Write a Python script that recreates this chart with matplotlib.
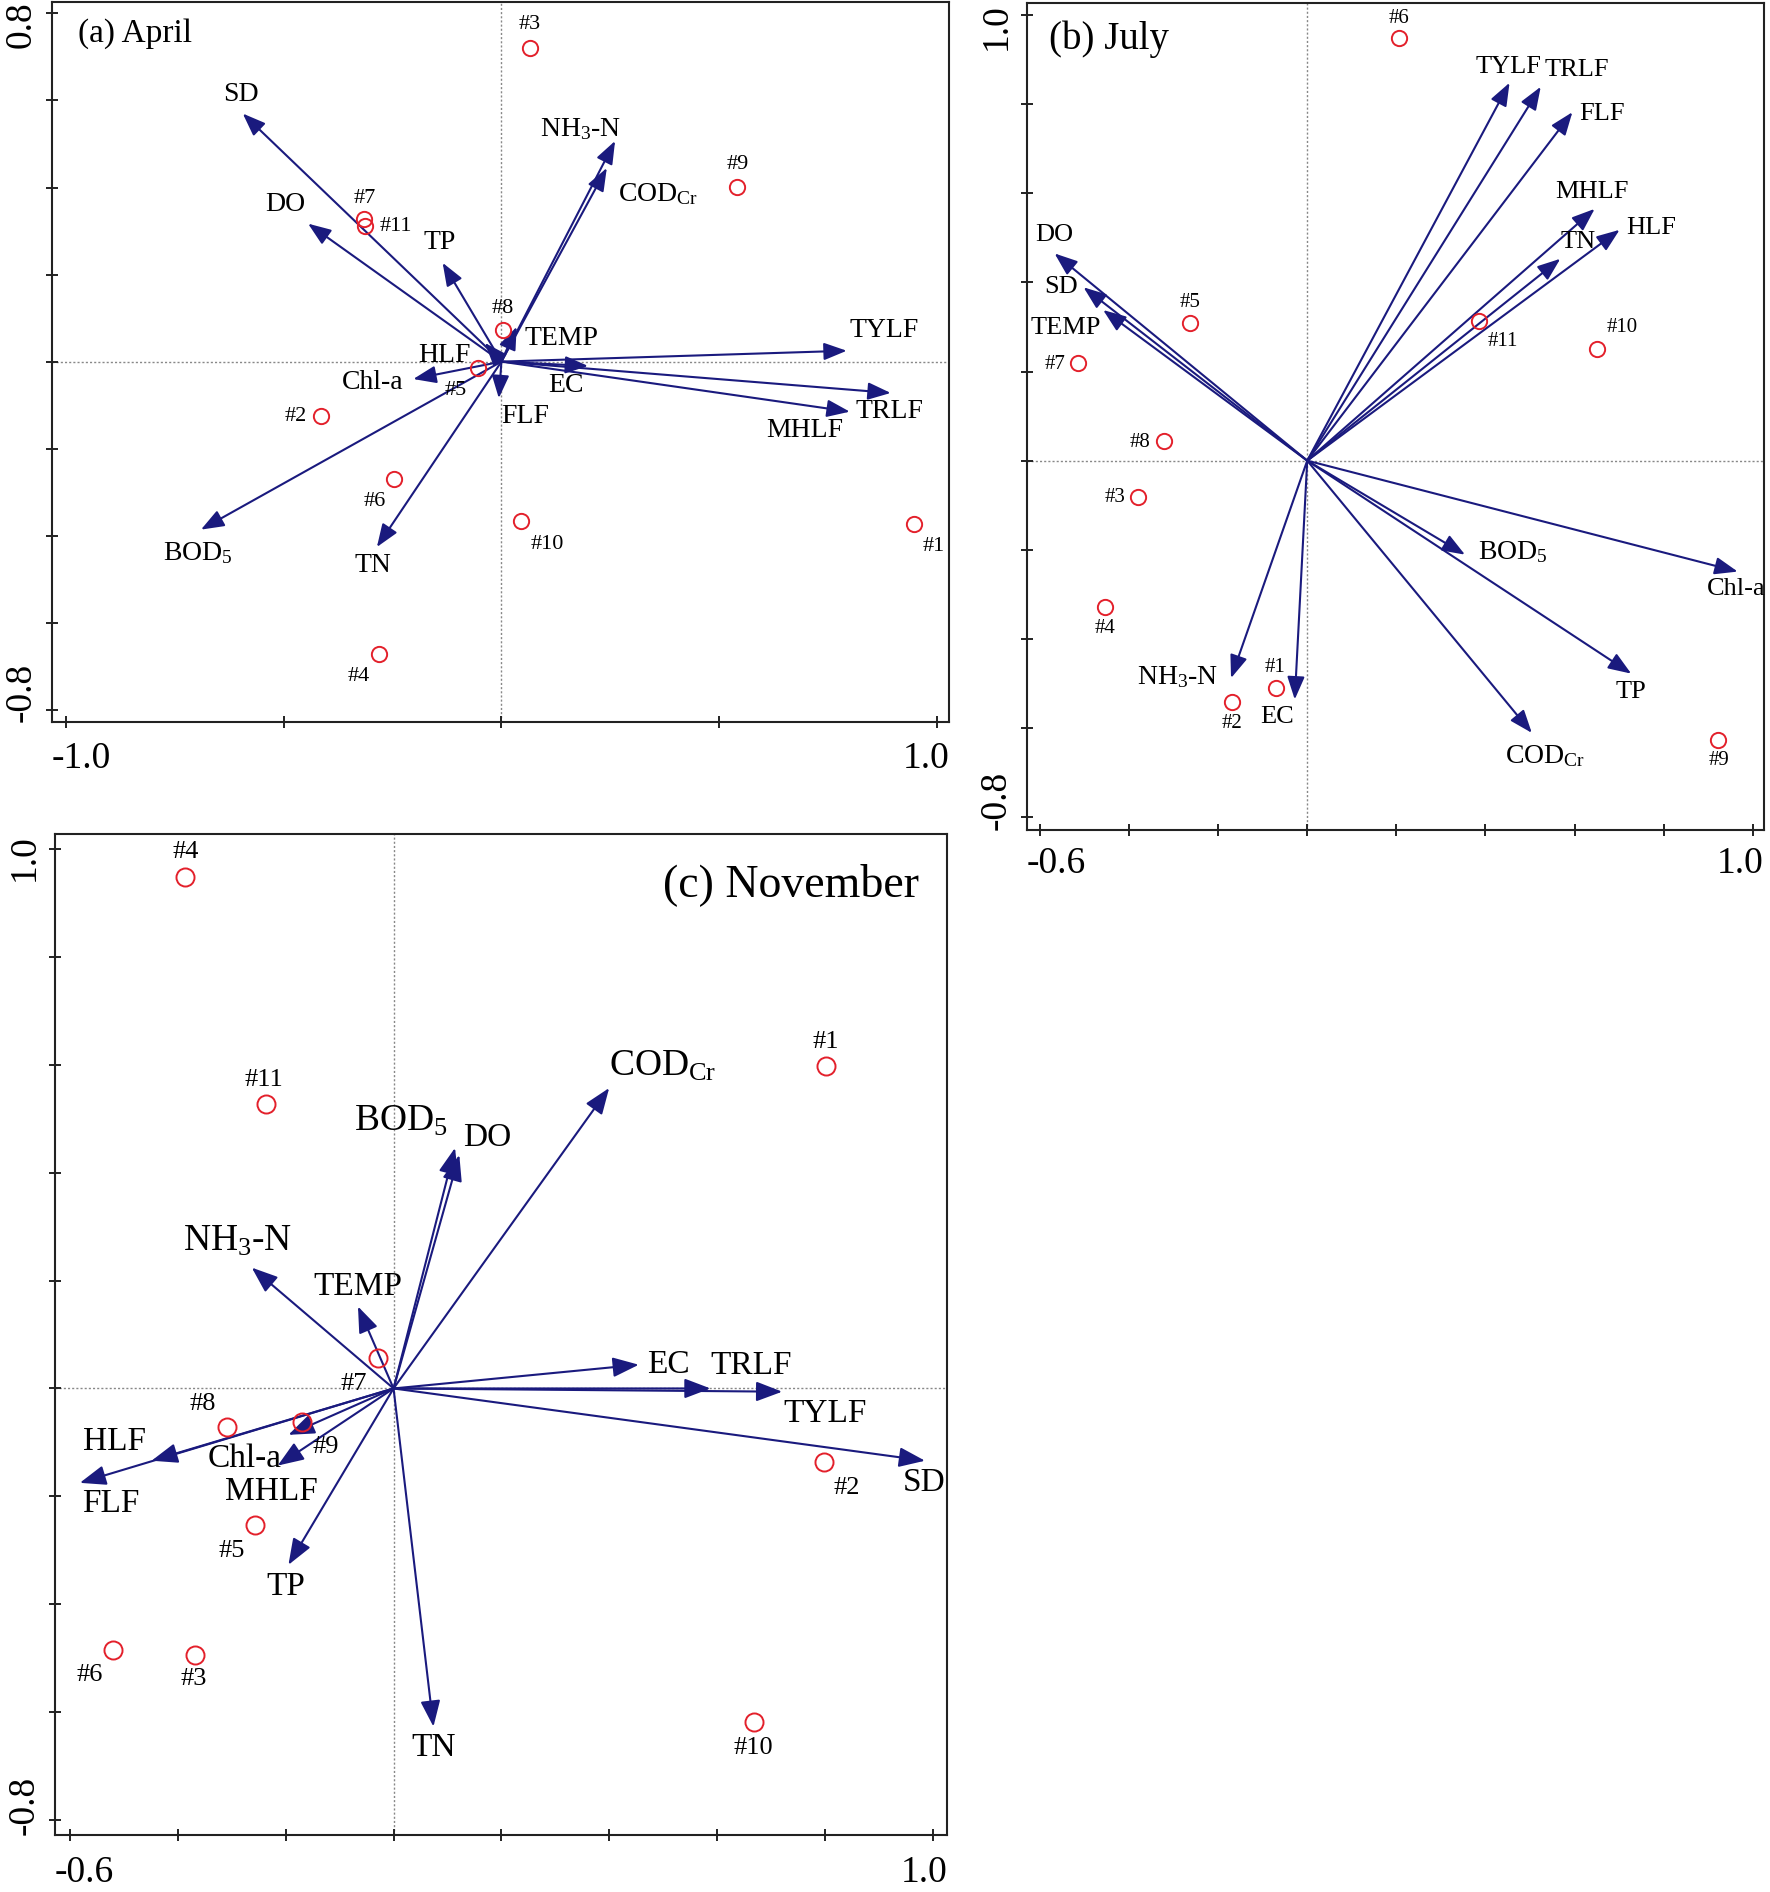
"""
    RDA biplots

    Three ordination panels (April, July, November): environmental /
    fluorescence variables as arrows, sampling sites as open circles.
"""

import numpy as np
import matplotlib
matplotlib.use("Agg")
import matplotlib.pyplot as plt
import matplotlib.transforms as mtransforms

plt.rcParams['font.family'] = ['Liberation Serif', 'DejaVu Serif']
plt.rcParams['mathtext.fontset'] = 'custom'
plt.rcParams['mathtext.rm'] = 'Liberation Serif'
plt.rcParams['mathtext.it'] = 'Liberation Serif:italic'

# variable names, same order in every panel
VARIABLES = ['TYLF', 'TRLF', 'FLF', 'MHLF', 'HLF', 'TEMP', 'DO', 'SD', 'EC',
             'Chl-a', 'TN', 'TP', 'NH$_3$-N', r'COD$_{\mathrm{Cr}}$', 'BOD$_5$']
SITES = ['#1', '#2', '#3', '#4', '#5', '#6', '#7', '#8', '#9', '#10', '#11']

# ---- (a) April ----
A_VEC_X = [0.793, 0.894, -0.006, 0.800, -0.038, 0.035, -0.444, -0.594, 0.199,
           -0.2025, -0.286, -0.135, 0.261, 0.242, -0.690]
A_VEC_Y = [0.025, -0.072, -0.084, -0.115, 0.043, 0.080, 0.317, 0.570, -0.010,
           -0.040, -0.426, 0.227, 0.507, 0.445, -0.386]
A_SITE_X = [0.948, -0.414, 0.066, -0.282, -0.053, -0.246, -0.315, 0.003, 0.542, 0.045, -0.313]
A_SITE_Y = [-0.373, -0.125, 0.720, -0.672, -0.014, -0.270, 0.328, 0.073, 0.401, -0.367, 0.311]

# ---- (b) July ----
B_VEC_X = [0.454, 0.524, 0.595, 0.645, 0.701, -0.458, -0.567, -0.502, -0.028,
           0.966, 0.568, 0.727, -0.171, 0.504, 0.354]
B_VEC_Y = [0.848, 0.839, 0.782, 0.565, 0.518, 0.338, 0.465, 0.389, -0.536,
           -0.249, 0.453, -0.478, -0.488, -0.611, -0.211]
B_SITE_X = [-0.069, -0.169, -0.379, -0.453, -0.264, 0.206, -0.514, -0.322, 0.921, 0.651, 0.386]
B_SITE_Y = [-0.511, -0.541, -0.082, -0.328, 0.308, 0.948, 0.219, 0.043, -0.626, 0.250, 0.313]

# ---- (c) November ----
C_VEC_X = [0.721, 0.588, -0.582, -0.215, -0.449, -0.066, 0.122, 0.986, 0.455,
           -0.195, 0.074, -0.195, -0.263, 0.400, 0.114]
C_VEC_Y = [-0.006, 0.000, -0.175, -0.143, -0.134, 0.152, 0.433, -0.134, 0.044,
           -0.086, -0.627, -0.327, 0.224, 0.557, 0.446]
C_SITE_X = [0.802, 0.799, -0.369, -0.386, -0.257, -0.521, -0.029, -0.309, -0.169, 0.668, -0.237]
C_SITE_Y = [0.597, -0.137, -0.494, 0.949, -0.254, -0.485, 0.057, -0.071, -0.063, -0.618, 0.528]

# label anchor positions (data units)
A_VLAB = [(0.880, 0.071), (0.892, -0.115), (0.054, -0.127), (0.697, -0.159), (-0.130, 0.014),
          (0.138, 0.054), (-0.497, 0.362), (-0.599, 0.614), (0.148, -0.055), (-0.296, -0.047),
          (-0.296, -0.469), (-0.141, 0.273), (0.183, 0.534), (0.359, 0.385), (-0.697, -0.440)]
A_SLAB = [(0.993, -0.424), (-0.472, -0.127), (0.066, 0.774), (-0.327, -0.723), (-0.106, -0.066),
          (-0.292, -0.321), (-0.315, 0.374), (0.003, 0.122), (0.542, 0.454), (0.106, -0.421),
          (-0.242, 0.311)]
B_VLAB = [(0.451, 0.883), (0.604, 0.877), (0.662, 0.779), (0.639, 0.603), (0.772, 0.521),
          (-0.541, 0.298), (-0.567, 0.506), (-0.553, 0.389), (-0.067, -0.576), (0.962, -0.289),
          (0.609, 0.491), (0.727, -0.519), (-0.291, -0.486), (0.533, -0.664), (0.462, -0.205)]
B_SLAB = [(-0.073, -0.465), (-0.169, -0.589), (-0.432, -0.083), (-0.453, -0.377), (-0.264, 0.355),
          (0.206, 0.992), (-0.567, 0.216), (-0.376, 0.040), (0.924, -0.674), (0.706, 0.298),
          (0.439, 0.267)]
C_VLAB = [(0.801, -0.046), (0.664, 0.043), (-0.525, -0.213), (-0.226, -0.191), (-0.517, -0.099),
          (-0.066, 0.189), (0.174, 0.465), (0.984, -0.175), (0.510, 0.044), (-0.277, -0.130),
          (0.074, -0.666), (-0.200, -0.367), (-0.289, 0.272), (0.499, 0.597), (0.014, 0.496)]
C_SLAB = [(0.801, 0.642), (0.841, -0.185), (-0.371, -0.539), (-0.386, 0.994), (-0.300, -0.301),
          (-0.563, -0.532), (-0.074, 0.009), (-0.354, -0.029), (-0.126, -0.109), (0.668, -0.666),
          (-0.241, 0.572)]

ARROW_COLOR = '#1a1a7e'
SITE_COLOR = '#e3202b'


def draw_panel(fig, rect, xlim, ylim, xticks, yticks, xticklabels, yticklabels,
               vx, vy, vlab, sx, sy, slab, title, title_pos, title_ha, title_size,
               var_size, site_size, big_size, head, ms, xgap):
    ax = fig.add_axes(rect)
    ax.set_xlim(*xlim)
    ax.set_ylim(*ylim)
    ax.axhline(0, color='#888888', lw=1.0, ls=(0, (1.5, 1.5)), zorder=1)
    ax.axvline(0, color='#888888', lw=1.0, ls=(0, (1.5, 1.5)), zorder=1)

    # arrows from origin
    for x, y in zip(vx, vy):
        ax.annotate('', xy=(x, y), xytext=(0, 0),
                    arrowprops=dict(arrowstyle='-|>,head_length=1.0,head_width=0.38',
                                    mutation_scale=head, color=ARROW_COLOR, lw=1.5,
                                    shrinkA=0, shrinkB=0), zorder=3)
    for name, (lx, ly) in zip(VARIABLES, vlab):
        size = big_size if '$' in name else var_size
        ax.text(lx, ly, name, fontsize=size, ha='center', va='center', zorder=4)

    # sites
    ax.plot(sx, sy, 'o', ms=ms, mfc='none', mec=SITE_COLOR, mew=1.4, ls='none', zorder=5)
    for name, (lx, ly) in zip(SITES, slab):
        ax.text(lx, ly, name, fontsize=site_size, ha='center', va='center', zorder=4)

    ax.text(title_pos[0], title_pos[1], title, transform=ax.transAxes,
            fontsize=title_size, ha=title_ha, va='center')

    # ticks without labels, end labels aligned to the frame
    ax.set_xticks(xticks)
    ax.set_yticks(yticks)
    ax.set_xticklabels([])
    ax.set_yticklabels([])
    ax.tick_params(direction='inout', length=8, width=1.4, color='#222222')
    for sp in ax.spines.values():
        sp.set_linewidth(1.5)
        sp.set_color('#222222')

    tx = mtransforms.offset_copy(ax.transAxes, fig=fig, y=-xgap, units='dots')
    ax.text(0, 0, xticklabels[0], transform=tx, fontsize=27, ha='left', va='top')
    ax.text(1, 0, xticklabels[1], transform=tx, fontsize=27, ha='right', va='top')
    ty = mtransforms.offset_copy(ax.transAxes, fig=fig, x=-13, units='dots')
    ax.text(0, 0, yticklabels[0], transform=ty, fontsize=27, ha='right', va='bottom',
            rotation=90)
    ax.text(0, 1, yticklabels[1], transform=ty, fontsize=27, ha='right', va='top',
            rotation=90)
    return ax


def main() -> None:
    fig = plt.figure(figsize=(17.7, 18.92), dpi=100)

    draw_panel(fig, [0.0294, 0.6184, 0.5068, 0.3807], (-1.032, 1.028), (-0.828, 0.827),
               [-1.0, -0.5, 0, 0.5, 1.0], np.round(np.arange(-0.8, 0.81, 0.2), 1),
               ['-1.0', '1.0'], ['-0.8', '0.8'],
               A_VEC_X, A_VEC_Y, A_VLAB, A_SITE_X, A_SITE_Y, A_SLAB,
               '(a) April', (0.029, 0.956), 'left', 24, 20, 16, 20, 14, 11, 20)

    draw_panel(fig, [0.5802, 0.5613, 0.4164, 0.4371], (-0.629, 1.025), (-0.829, 1.027),
               np.round(np.arange(-0.6, 1.01, 0.2), 1), np.round(np.arange(-0.8, 1.01, 0.2), 1),
               ['-0.6', '1.0'], ['-0.8', '1.0'],
               B_VEC_X, B_VEC_Y, B_VLAB, B_SITE_X, B_SITE_Y, B_SLAB,
               '(b) July', (0.030, 0.956), 'left', 28, 19, 15, 20, 14, 11, 16)

    draw_panel(fig, [0.0311, 0.0301, 0.5040, 0.5291], (-0.628, 1.027), (-0.828, 1.028),
               np.round(np.arange(-0.6, 1.01, 0.2), 1), np.round(np.arange(-0.8, 1.01, 0.2), 1),
               ['-0.6', '1.0'], ['-0.8', '1.0'],
               C_VEC_X, C_VEC_Y, C_VLAB, C_SITE_X, C_SITE_Y, C_SLAB,
               '(c) November', (0.969, 0.949), 'right', 33, 24, 19, 27, 16, 13, 20)

    fig.savefig('out.png', dpi=100)


if __name__ == "__main__":
    main()
